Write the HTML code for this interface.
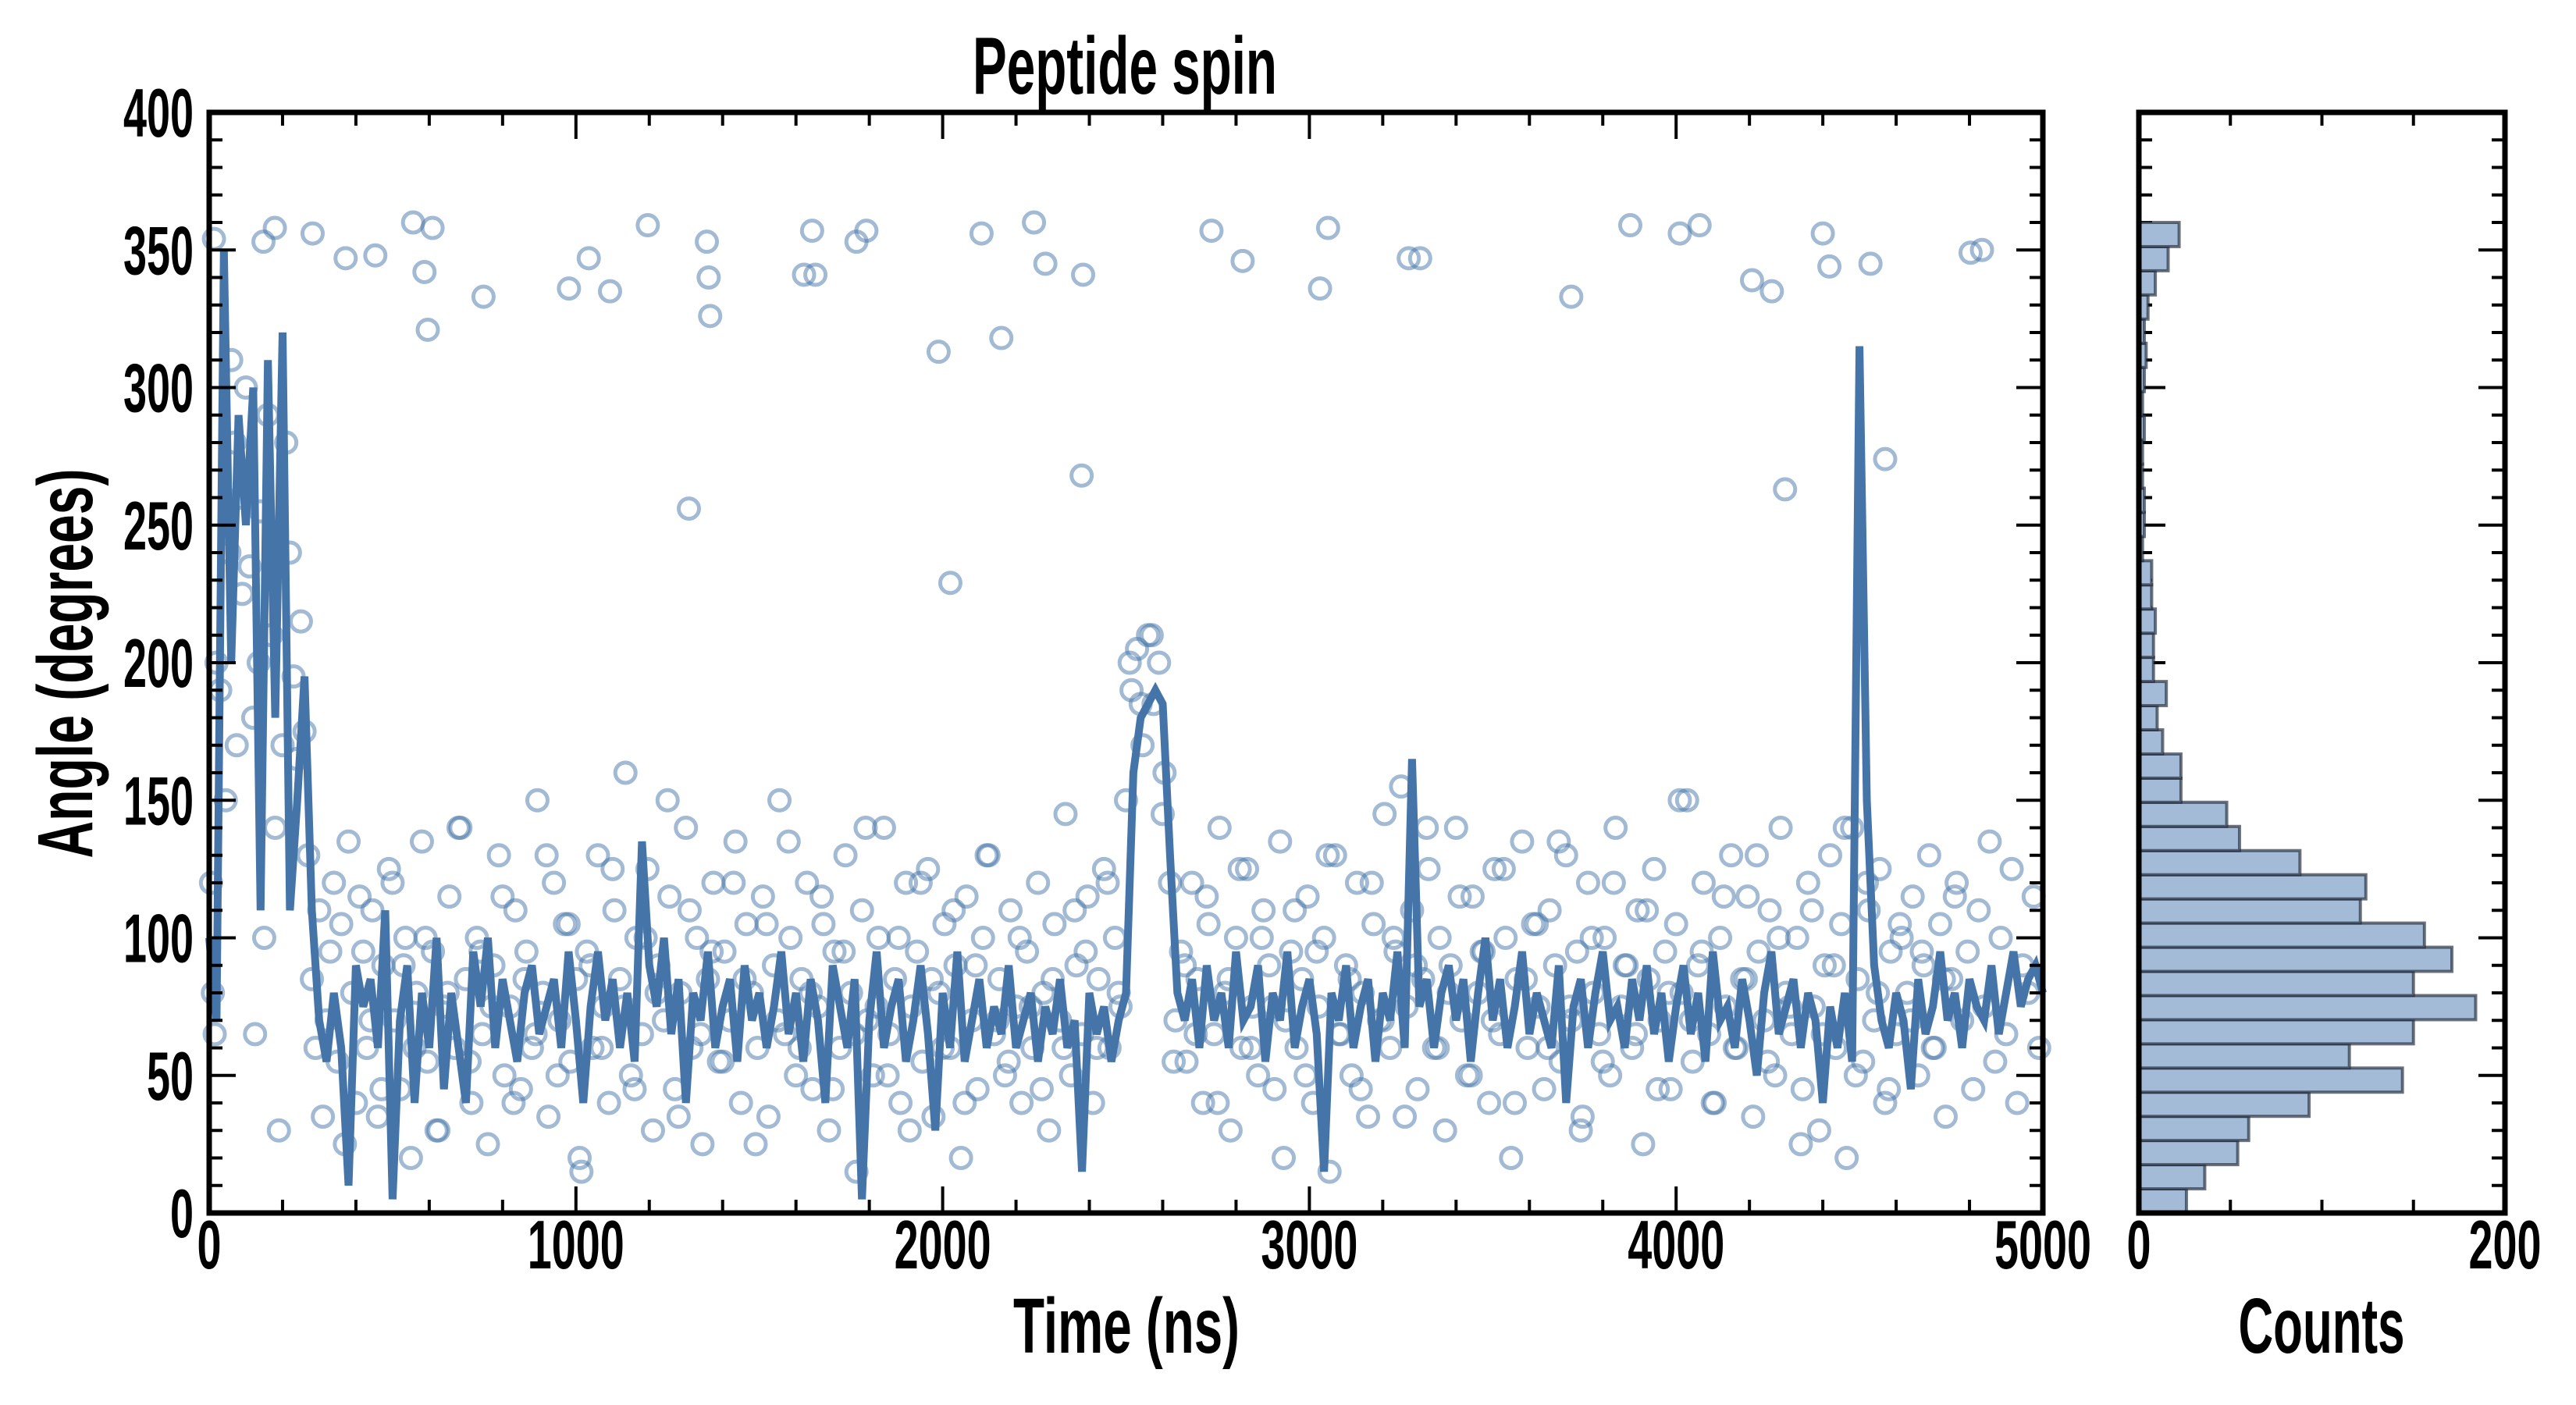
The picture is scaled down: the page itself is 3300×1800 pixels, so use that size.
<!DOCTYPE html>
<html><head><meta charset="utf-8"><style>
html,body{margin:0;padding:0;background:#fff;}
svg{display:block;}
text{font-family:"Liberation Sans Narrow","Liberation Sans",sans-serif;font-weight:bold;fill:#000;}
</style></head><body>
<svg id="chart" xmlns="http://www.w3.org/2000/svg" width="3300" height="1800" viewBox="0 0 3300 1800">
<g id="main"></g>
<g id="hist"></g>
<text x="1441" y="120" font-size="104" text-anchor="middle" textLength="390" lengthAdjust="spacingAndGlyphs">Peptide spin</text>
<text x="1443" y="1733" font-size="100" text-anchor="middle" textLength="290" lengthAdjust="spacingAndGlyphs">Time (ns)</text>
<text x="2974" y="1733" font-size="100" text-anchor="middle" textLength="213" lengthAdjust="spacingAndGlyphs">Counts</text>
<text x="0" y="0" font-size="100" text-anchor="middle" textLength="499" lengthAdjust="spacingAndGlyphs" transform="translate(118,850) rotate(-90)">Angle (degrees)</text>
</svg>
<script>
// ---- data ----
var xTicks = [0,1000,2000,3000,4000,5000];
var yTicks = [0,50,100,150,200,250,300,350,400];
var histXTicks = [0,200];
var LINE_DT = 20;
var lineAngles = [100,70,350,200,290,250,300,110,310,180,320,110,150,195,110,70,55,80,60,10,
90,75,85,60,110,5,70,90,40,80,60,100,45,80,60,40,95,75,100,60,
85,70,55,80,90,65,75,85,60,95,70,40,75,95,70,85,60,80,55,135,
90,75,100,65,85,40,80,70,95,60,75,85,55,90,70,80,60,75,95,65,
80,55,85,70,40,90,75,60,85,5,70,95,60,75,85,55,70,90,65,30,
80,60,95,55,70,85,60,75,65,90,60,70,80,55,75,65,85,60,70,15,
80,65,75,55,70,80,160,180,185,190,185,130,80,70,85,60,90,70,80,60,
95,70,75,90,55,80,70,95,60,75,85,65,15,80,70,90,60,75,85,55,
80,70,95,60,165,75,85,60,80,90,70,85,55,80,100,70,85,60,75,95,
65,80,70,60,90,40,75,85,60,80,95,70,75,60,85,70,90,65,80,55,
75,90,65,80,55,95,70,75,60,85,70,50,80,95,65,75,85,60,80,70,
40,75,60,80,55,315,150,90,70,60,80,70,45,85,65,75,95,70,80,60,
85,75,70,90,65,80,95,75,85,90,80];
var extraTime = [5,10,15,20,30,45,55,60,70,75,85,90,100,110,120,125,135,140,150,160,170,180,190,200,210,220,230,240,250,260,270,280,290,300,310,320,330,340,350,360,370,380,390,400,410,420,
13,148,179,282,372,453,556,609,587,596,748,981,1035,1093,1196,1357,1362,1366,1308,1644,1622,1653,1765,1792,1989,2021,2106,2160,2249,2280,2379,2383,2733,2818,3029,3051,3271,3302,3714,3875,4010,4064,4207,4261,4297,4400,4418,4530,4570,4803,4834];
var extraAngle = [120,80,65,200,190,150,240,310,280,170,260,225,300,235,180,65,200,255,100,290,210,140,30,170,280,240,195,165,215,175,130,85,60,110,35,70,95,120,55,105,25,135,80,40,115,95,
354,353,358,356,347,348,360,358,342,321,333,336,347,335,359,353,340,326,256,357,341,341,353,357,313,229,356,318,360,345,268,341,357,346,336,358,347,347,333,359,356,359,339,335,263,356,344,345,274,349,350];
var SCAT_A_T0 = 430, SCAT_A_DT = 15;
var scatterAngleA = [60,110,35,90,125,70,45,100,20,80,135,55,95,30,75,115,60,140,85,40,
100,65,25,90,130,50,75,110,45,95,60,150,80,35,120,70,105,55,85,15,
95,60,130,75,40,110,85,160,50,100,65,125,30,90,70,115,45,80,140,60,
100,25,85,120,55,95,70,135,40,105,80,60,115,35,90,150,65,100,50,85,
120,45,75,105,30,95,60,130,80,15,110,70,50,100,140,65,85,40,120,75,
95,55,125,35,80,105,60,90,20,115,70,45,100,130,65,85,50,110,75,40,
95,60,120,80,30,105,70,145,50,90,65,115,40,85,125,60,100,75,
150,190,205,170,210,185,200,160,120,
70,95,55,120,85,40,105,65,140,80,30,100,60,125,75,50,110,90,45,135,70,95,60,
85,115,40,75,100,15,130,65,90,50,120,80,35,105,70,145,60,95,155,75,110,45,85,125,60,100,30,90,140,70,
50,115,80,95,40,125,65,100,20,85,135,60,105,75,45,110,90,55,130,70,95,35,120,80,65,100,50,140,75,90,
60,110,25,85,125,70,95,45,105,80,150,55,90,120,65,40,100,75,130,60,85,115,35,95,70,110,50,140,80,65,
100,45,120,75,30,90,130,60,105,20,140,85,55,110,70,125,40,95,65,100,
80,115,50,90,130,60,105,35,85,120,70,95,45,110,75,135,55,100,65,125,40,90,80,115,60];
var SCAT_B_T0 = 440, SCAT_B_DT = 30;
var scatterAngleB = [70,45,120,90,60,100,30,80,140,55,95,75,115,40,85,65,130,50,105,20,
90,60,125,75,45,100,80,150,35,110,65,95,55,120,85,25,105,70,135,60,
80,115,45,95,65,140,75,50,100,30,120,85,60,110,40,90,130,70,55,100,
75,45,85,60,110,95,60,120,80,200,185,210,145,55,90,65,115,40,85,125,
60,100,75,20,110,50,95,130,65,85,45,120,70,100,35,90,140,60,80,115,
50,95,70,125,40,85,105,60,135,75,30,100,55,120,90,65,110,45,80,150,
70,95,40,115,60,85,130,55,100,75,25,110,65,90,140,50,120,80,45,105,
70,95,60,85,115];
var HIST_BIN = 360/41;
var histCounts = [26,36,54,60,93,144,115,150,184,150,171,156,121,124,88,55,48,23,23,13,
10,15,8,8,9,7,7,2,3,3,2,2,3,2,3,4,3,5,9,16,22];

// ---- layout ----
var L=268,R=2617,T=144,B=1554, HL=2740, HR=3209;
function X(t){return L+(t/5000)*(R-L);}
function Y(a){return B-(a/400)*(B-T);}
function HX(c){return HL+(c/200)*(HR-HL);}
var NS="http://www.w3.org/2000/svg";
function mk(tag,parent,attrs){var e=document.createElementNS(NS,tag);for(var k in attrs)e.setAttribute(k,attrs[k]);parent.appendChild(e);return e;}
var main=document.getElementById('main'), hist=document.getElementById('hist');

// scatter
var scat=mk('g',main,{});


function pt(t,a){
  if(a<0||a>400||t<0||t>5000)return;
  var c=mk('circle',scat,{cx:X(t),cy:Y(a),r:13,fill:'none',stroke:'rgba(70,117,168,0.5)','stroke-width':5});
  
  
}
extraTime.forEach(function(t,i){pt(t,extraAngle[i]);});
scatterAngleA.forEach(function(a,i){pt(SCAT_A_T0+i*SCAT_A_DT,a);});
scatterAngleB.forEach(function(a,i){pt(SCAT_B_T0+i*SCAT_B_DT,a);});

// line
var d=lineAngles.map(function(a,i){return (i?'L':'M')+X(i*LINE_DT).toFixed(1)+' '+Y(a).toFixed(1);}).join(' ');
var ln=mk('path',main,{d:d,fill:'none',stroke:'#4575a8','stroke-width':10,'stroke-linejoin':'miter'});



// histogram bars
histCounts.forEach(function(c,i){
  var y0=Y(i*HIST_BIN), y1=Y((i+1)*HIST_BIN);
  var r=mk('rect',hist,{x:HL,y:y1,width:Math.max(0,HX(c)-HL),height:y0-y1,fill:'#a3bbd6',stroke:'rgba(30,40,55,0.65)','stroke-width':4});
  
  
});

// axes frames & ticks
function frame(g,x0,x1,name){
  var f=mk('rect',g,{x:x0,y:T,width:x1-x0,height:B-T,fill:'none',stroke:'#000','stroke-width':7});
  
  
}
frame(main,L,R,'main-axes-frame');
frame(hist,HL,HR,'hist-axes-frame');
var tk=mk('g',main,{stroke:'#000','stroke-width':4});


function line(x1,y1,x2,y2){mk('line',tk,{x1:x1,y1:y1,x2:x2,y2:y2});}
for(var t=0;t<=5000;t+=200){var len=(t%1000===0)?34:17;var x=X(t);line(x,B,x,B-len);line(x,T,x,T+len);}
for(var a=0;a<=400;a+=10){var len=(a%50===0)?34:17;var y=Y(a);
  line(L,y,L+len,y);line(R,y,R-len,y);line(HL,y,HL+len,y);line(HR,y,HR-len,y);}
for(var c=0;c<=200;c+=50){var len=(c%200===0)?34:17;var x=HX(c);line(x,B,x,B-len);line(x,T,x,T+len);}

// tick labels
var svg=document.getElementById('chart');
xTicks.forEach(function(t){
  var s=String(t);
  var e=mk('text',svg,{x:X(t),y:1625,'font-size':88,'text-anchor':'middle',textLength:s.length*31,lengthAdjust:'spacingAndGlyphs'});
  e.textContent=s;
  
  
});
yTicks.forEach(function(a){
  var s=String(a);
  var e=mk('text',svg,{x:248,y:Y(a)+31,'font-size':88,'text-anchor':'end',textLength:s.length*30,lengthAdjust:'spacingAndGlyphs'});
  e.textContent=s;
  
  
});
histXTicks.forEach(function(c){
  var s=String(c);
  var e=mk('text',svg,{x:HX(c),y:1625,'font-size':88,'text-anchor':'middle',textLength:s.length*31,lengthAdjust:'spacingAndGlyphs'});
  e.textContent=s;
  
  
});
</script>
</body></html>
